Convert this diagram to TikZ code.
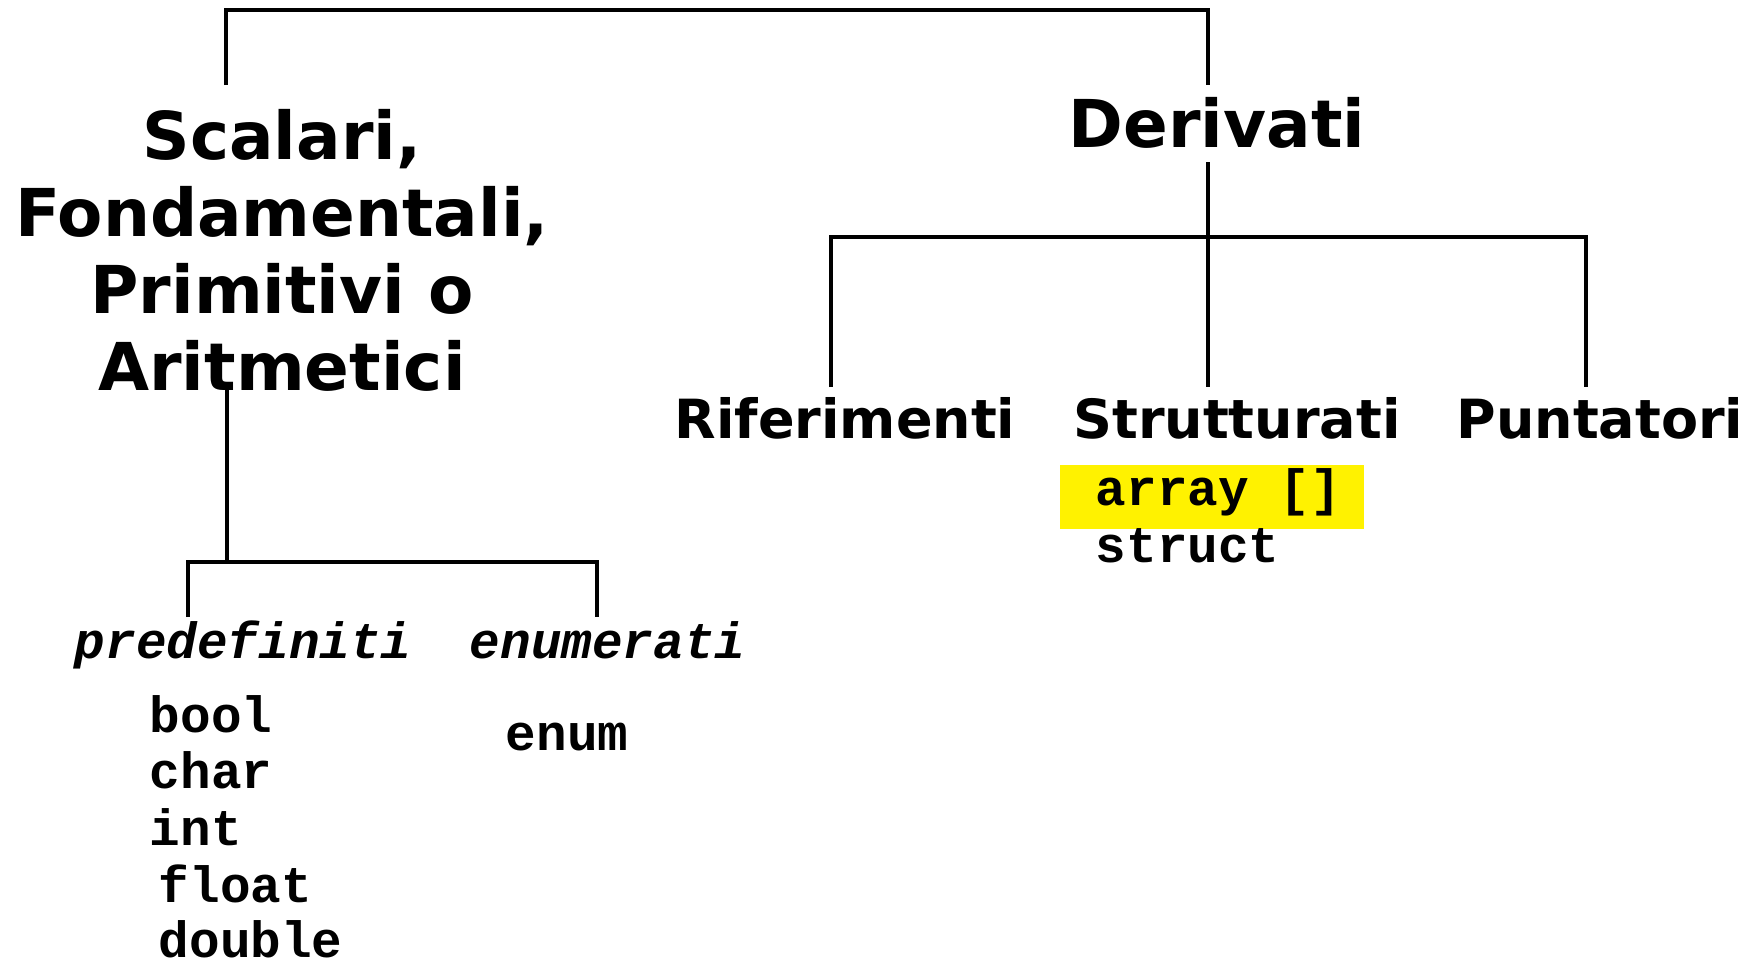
\documentclass[tikz,border=0pt]{standalone}
\usepackage{fontspec}
\newfontfamily\hdfont{DejaVu Sans}
\newfontfamily\codefont{Liberation Mono}
\begin{document}
\begin{tikzpicture}[x=1pt,y=-1pt,
  line width=3.8pt,
  big/.style={inner sep=0pt,font=\hdfont\bfseries\fontsize{66}{77}\selectfont,align=center},
  mid/.style={inner sep=0pt,font=\hdfont\bfseries\fontsize{54}{63}\selectfont},
  code/.style={inner sep=0pt,anchor=base west,font=\codefont\bfseries\fontsize{51}{57}\selectfont},
  codeit/.style={inner sep=0pt,anchor=base west,font=\codefont\bfseries\itshape\fontsize{51}{57}\selectfont},
  hl/.style={fill=yellow,inner sep=0pt,anchor=north west,minimum width=304pt,minimum height=64pt}]
\useasboundingbox (0,0) rectangle (1758,966);
% highlight
\node[hl] (hlbox) at (1058,463) {};
% main nodes
\node[big,anchor=north] (scal) at (282,107) {Scalari,\\Fondamentali,\\Primitivi o\\Aritmetici};
\node[big,anchor=base] (der) at (1217,147) {Derivati};
\node[mid,anchor=base] (rif) at (845,438) {Riferimenti};
\node[mid,anchor=base] (str) at (1237,438) {Strutturati};
\node[mid,anchor=base] (pun) at (1600,438) {Puntatori};
\node[codeit] (pre) at (73,658) {predefiniti};
\node[codeit] (enu) at (468,658) {enumerati};
\node[code] (arr) at (1094,505) {array []};
\node[code] (stc) at (1094,562) {struct};
\node[code] (bool) at (148,732) {bool};
\node[code] (char) at (148,788) {char};
\node[code] (int) at (148,845) {int};
\node[code] (flt) at (157,902) {float};
\node[code] (dbl) at (157,957) {double};
\node[code] (enm) at (504,750) {enum};
% connector ends
\coordinate (scal-up) at (226,85);
\coordinate (der-up) at (1208,85);
\coordinate (der-down) at (1208,162);
\coordinate (str-up) at (1208,387);
\coordinate (rif-up) at (831,387);
\coordinate (pun-up) at (1586,387);
\coordinate (scal-down) at (227,383);
\coordinate (scal-bus) at (227,562);
\coordinate (pre-up) at (188,617);
\coordinate (enu-up) at (597,617);
% connectors
\draw (scal-up) -- ++(0,-75) -| (der-up);
\draw (der-down) -- (str-up);
\draw (rif-up) -- ++(0,-150) -| (pun-up);
\draw (scal-down) -- (scal-bus);
\draw (pre-up) -- ++(0,-55) -| (enu-up);
\end{tikzpicture}
\end{document}
